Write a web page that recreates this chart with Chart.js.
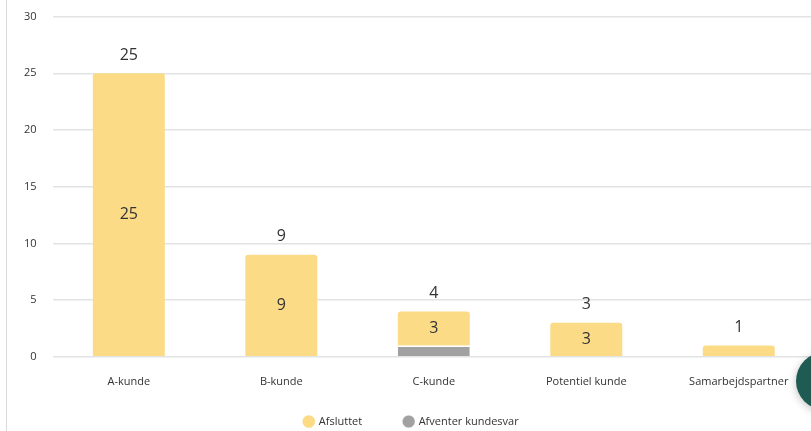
<!DOCTYPE html>
<html lang="da">
<head>
<meta charset="utf-8">
<script src="https://cdn.jsdelivr.net/npm/chart.js@4"></script>
<style>
    html, body { margin: 0; padding: 0; background: #fff; overflow: hidden; width: 811px; height: 431px; }
    .ramme { position: absolute; left: 6px; top: 0; width: 1px; height: 431px; background: #d6d9dc; }
    .boks { position: absolute; left: 8px; top: -6px; }
    .knap { position: absolute; left: 796px; top: 352px; width: 58px; height: 58px; border-radius: 50%;
            background: #1f5b52; box-shadow: 0 2px 8px rgba(0,0,0,0.25); }
</style>
</head>
<body>
<div class="ramme"></div>
<div class="boks"><canvas id="kundeGrafik" width="807" height="437"></canvas></div>
<div class="knap"></div>
<script>
// Kundetyper og antal pr. status
const kategorier = ['A-kunde', 'B-kunde', 'C-kunde', 'Potentiel kunde', 'Samarbejdspartner'];
const afsluttet = [25, 9, 3, 3, 1];
const afventer = [0, 0, 1, 0, 0];
const yTicks = [0, 5, 10, 15, 20, 25, 30];

const skrift = "'Open Sans', 'Noto Sans', sans-serif";
const tekstFarve = '#333333';
const legendeAfstand = 42;

// Skriver værdier inde i søjlerne og totalen ovenover
const vaerdiEtiketter = {
    id: 'vaerdiEtiketter',
    afterDatasetsDraw(chart) {
        const ctx = chart.ctx;
        ctx.save();
        ctx.font = '16px ' + skrift;
        ctx.fillStyle = tekstFarve;
        ctx.textAlign = 'center';
        ctx.textBaseline = 'middle';

        chart.data.datasets.forEach((ds, i) => {
            const meta = chart.getDatasetMeta(i);
            meta.data.forEach((bar, j) => {
                const v = ds.data[j];
                if (!v) return;
                const h = Math.abs(bar.base - bar.y);
                if (h < 20) return;
                ctx.fillText(v, bar.x, (bar.y + bar.base) / 2);
            });
        });

        const yAkse = chart.scales.y;
        const forste = chart.getDatasetMeta(0);
        kategorier.forEach((k, j) => {
            const total = afsluttet[j] + afventer[j];
            const x = forste.data[j].x;
            ctx.fillText(total, x, yAkse.getPixelForValue(total) - 18);
        });
        ctx.restore();
    }
};

// Legenden skal være lav, men med god afstand mellem punkterne
const legendeHoejde = {
    id: 'legendeHoejde',
    beforeInit(chart) {
        const fit = chart.legend.fit;
        chart.legend.fit = function () {
            fit.call(this);
            this.height = 25;
        };
    },
    afterLayout(chart) {
        // vandret afstand bruges også lodret, så toppen rykkes op igen
        chart.legend.top -= legendeAfstand - 10;
    }
};

new Chart(document.getElementById('kundeGrafik'), {
    type: 'bar',
    data: {
        labels: kategorier,
        datasets: [
            {
                label: 'Afsluttet',
                data: afsluttet,
                backgroundColor: '#fcdb87',
                borderRadius: { topLeft: 3, topRight: 3 },
                borderSkipped: 'bottom',
                order: 2
            },
            {
                label: 'Afventer kundesvar',
                data: afventer,
                backgroundColor: '#a1a1a1',
                borderColor: '#ffffff',
                borderWidth: { top: 1.5 },
                borderSkipped: 'bottom',
                order: 1
            }
        ]
    },
    options: {
        responsive: false,
        animation: false,
        maintainAspectRatio: false,
        categoryPercentage: 0.8,
        barPercentage: 0.59,
        layout: { padding: { left: 0, top: 0, right: 0, bottom: 0 } },
        plugins: {
            legend: {
                position: 'bottom',
                labels: {
                    usePointStyle: true,
                    pointStyle: 'circle',
                    boxWidth: 9,
                    boxHeight: 9,
                    padding: legendeAfstand,
                    color: tekstFarve,
                    font: { family: skrift, size: 11 },
                    sort: (a, b) => a.datasetIndex - b.datasetIndex
                }
            },
            tooltip: { enabled: false }
        },
        scales: {
            x: {
                stacked: true,
                grid: { display: false, drawTicks: false },
                border: { display: false },
                ticks: { color: tekstFarve, padding: 18, font: { family: skrift, size: 11 } }
            },
            y: {
                stacked: true,
                min: 0,
                max: 30,
                afterBuildTicks(scale) {
                    scale.ticks = yTicks.map(v => ({ value: v }));
                },
                grid: { color: '#e1e3e5', lineWidth: 1.5, drawTicks: false },
                border: { display: false },
                ticks: { color: tekstFarve, padding: 16, font: { family: skrift, size: 11 } }
            }
        }
    },
    plugins: [vaerdiEtiketter, legendeHoejde]
});
</script>
</body>
</html>
